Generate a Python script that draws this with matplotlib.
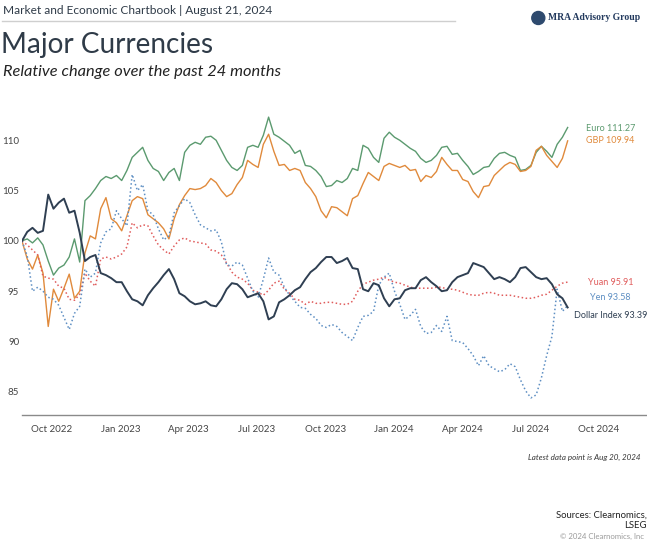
import numpy as np
import pandas as pd
import matplotlib
matplotlib.use("Agg")
import matplotlib.pyplot as plt
import matplotlib.dates as mdates
from matplotlib.patches import Ellipse

# weekly readings, rebased to 100 at the start
start_date = "2022-08-22"
end_date = "2024-08-20"

euro = [100.0, 100.2, 99.8, 100.3, 99.6, 98.0, 96.6, 97.3, 97.6, 98.4,
        100.2, 97.9, 104.0, 104.5, 105.2, 106.0, 106.4, 106.2, 106.5, 106.0,
        107.0, 108.3, 108.8, 109.3, 108.0, 107.2, 106.9, 106.0, 106.8, 107.2,
        106.0, 108.8, 109.5, 109.8, 109.6, 110.3, 110.4, 110.0, 109.0, 108.0,
        107.3, 107.0, 107.5, 109.3, 109.5, 109.3, 110.5, 112.3, 110.6, 110.3,
        109.9, 109.5, 108.7, 109.0, 107.5, 107.4, 107.0, 106.4, 105.4, 105.5,
        106.0, 105.8, 106.2, 107.2, 107.0, 109.5, 109.2, 108.3, 107.8, 110.2,
        110.8, 110.3, 110.0, 109.6, 109.2, 108.9, 108.2, 107.8, 108.0, 108.5,
        109.3, 109.4, 108.6, 108.7, 108.0, 107.4, 106.6, 106.9, 107.3, 107.4,
        108.2, 108.7, 108.8, 108.5, 108.3, 107.0, 107.1, 107.5, 108.8, 109.4,
        108.9, 108.3, 109.6, 110.3, 111.27]

gbp = [100.0, 98.2, 97.2, 98.6, 96.8, 91.5, 95.2, 94.0, 95.3, 96.7,
       94.3, 95.0, 98.8, 100.5, 100.2, 103.2, 104.3, 102.2, 101.8, 101.0,
       102.5, 104.0, 104.4, 104.2, 102.6, 102.2, 101.8, 101.2, 100.2, 102.2,
       103.6, 104.5, 105.2, 105.1, 105.2, 105.5, 106.2, 105.8, 105.0, 104.4,
       104.7, 105.6, 106.3, 108.0, 107.6, 107.3, 109.6, 110.6, 108.9, 107.5,
       107.6, 107.0, 107.2, 107.0, 105.8, 105.2, 104.4, 103.0, 102.3, 103.4,
       103.3, 102.9, 102.5, 104.2, 104.5, 105.7, 106.8, 106.4, 106.0, 107.4,
       107.7, 107.5, 107.3, 107.5, 107.0, 107.1, 105.9, 106.5, 106.3, 106.9,
       108.3, 107.6, 107.0, 107.0, 106.1, 105.9, 104.9, 104.3, 105.4, 105.5,
       106.5, 107.0, 107.5, 107.8, 107.6, 106.9, 107.0, 107.4, 109.0, 109.4,
       108.5, 107.9, 107.3, 108.2, 109.94]

yuan = [100.0, 99.6, 99.1, 98.6, 96.5, 96.3, 96.2, 95.5, 95.3, 94.2,
        94.1, 94.7, 96.8, 96.0, 95.5, 98.2, 98.4, 98.2, 98.4, 98.7,
        99.4, 101.8, 101.3, 101.6, 101.5, 100.5, 99.6, 99.1, 98.7, 99.5,
        100.1, 100.3, 100.0, 99.9, 99.8, 99.7, 99.1, 99.0, 98.6, 97.8,
        96.9, 96.4, 96.2, 95.8, 95.1, 94.9, 94.6, 95.1, 95.8, 96.0,
        95.2, 94.8, 94.2, 94.1, 93.7, 94.0, 93.8, 93.8, 93.9, 93.9,
        93.8, 93.7, 93.7, 94.0, 95.0, 95.7, 95.9, 96.1, 96.2, 96.4,
        96.1, 95.9, 95.8, 95.6, 95.4, 95.3, 95.3, 95.3, 95.3, 95.4,
        95.4, 95.2, 95.2, 95.1, 94.9, 94.7, 94.6, 94.6, 94.8, 94.9,
        94.8, 94.6, 94.6, 94.6, 94.5, 94.4, 94.3, 94.3, 94.4, 94.6,
        94.7, 95.1, 95.5, 95.8, 95.91]

yen = [100.0, 98.5, 95.0, 95.4, 95.0, 94.4, 94.2, 93.6, 92.4, 91.2,
       92.8, 93.5, 97.2, 96.4, 96.8, 99.8, 100.9, 101.2, 103.0, 102.2,
       101.5, 106.6, 105.0, 105.6, 103.0, 102.6, 101.2, 100.1, 100.5, 102.8,
       103.5, 104.2, 103.8, 102.6, 101.6, 101.3, 101.0, 101.1, 99.9, 97.6,
       97.5, 97.9, 97.6, 96.3, 95.0, 94.4, 96.2, 98.3, 96.9, 96.6,
       95.4, 94.6, 94.0, 93.4, 93.3, 92.7, 92.3, 91.6, 91.4, 91.7,
       91.5, 90.9, 90.5, 90.1, 91.4, 92.5, 92.6, 93.0, 95.6, 96.4,
       96.8, 95.0, 93.7, 92.2, 92.6, 93.2, 91.5, 90.8, 90.9, 91.6,
       91.0, 92.5, 90.1, 90.0, 89.9, 89.3, 88.6, 87.6, 88.6, 87.6,
       87.3, 87.0, 87.2, 87.8, 87.5, 86.2, 85.1, 84.4, 84.7, 86.4,
       88.6, 90.5, 95.2, 93.0, 93.58]

dollar = [100.0, 100.9, 101.3, 100.8, 101.0, 104.6, 103.2, 103.8, 104.2, 102.8,
          103.0, 100.8, 98.0, 98.4, 98.6, 96.8, 96.6, 96.3, 95.9, 95.9,
          95.0, 94.2, 94.0, 93.6, 94.6, 95.3, 95.9, 96.6, 97.2, 96.2,
          94.8, 94.5, 94.0, 93.7, 93.8, 94.0, 93.6, 93.5, 94.2, 95.2,
          95.8, 95.7, 95.2, 94.4, 94.6, 94.8, 94.0, 92.2, 92.5, 93.9,
          94.2, 94.6, 95.1, 95.4, 96.2, 96.9, 97.3, 97.9, 98.4, 98.4,
          97.8, 98.0, 98.3, 97.3, 97.2, 95.2, 95.0, 95.8, 95.6, 94.3,
          93.5, 94.2, 94.3, 95.1, 95.3, 95.3, 96.1, 96.4, 95.9, 95.5,
          95.0, 95.1, 95.9, 96.4, 96.6, 96.8, 97.8, 97.6, 97.4, 96.8,
          96.2, 96.4, 96.2, 95.9, 96.4, 97.3, 97.4, 96.9, 96.4, 96.2,
          96.3, 95.7, 94.7, 94.3, 93.39]

names = ["Euro", "GBP", "Yuan", "Yen", "Dollar Index"]
series = [euro, gbp, yuan, yen, dollar]
colors = ["#5b9a6f", "#e08a3c", "#e05c5c", "#5e8fc3", "#2f3f52"]
styles = ["-", "-", ":", ":", "-"]
widths = [1.0, 1.0, 1.1, 1.1, 1.4]
label_nudge = [-0.1, 0.0, 0.0, 0.8, -0.8]

ink = "#2f3b48"
plt.rcParams["font.family"] = ["Lato", "DejaVu Sans"]

fig = plt.figure(figsize=(6.47, 5.45), dpi=100)
ax = fig.add_axes([0.034, 0.2385, 0.966, 0.578])

dates = pd.date_range(start_date, end_date, periods=len(euro))
for name, vals, c, ls, lw in zip(names, series, colors, styles, widths):
    ax.plot(dates, vals, color=c, linestyle=ls, linewidth=lw)

label_x = pd.Timestamp("2024-10-16")
for name, vals, c, dy in zip(names, series, colors, label_nudge):
    ax.text(label_x, vals[-1] + dy, f"{name} {vals[-1]:.2f}", color=c,
            fontsize=6.5, ha="center", va="center")

ax.set_xlim(pd.Timestamp("2022-08-22"), pd.Timestamp("2024-12-04"))
ax.set_ylim(82.7, 114)
ax.set_yticks([85, 90, 95, 100, 105, 110])
ax.xaxis.set_major_locator(mdates.MonthLocator(bymonth=[1, 4, 7, 10]))
ax.xaxis.set_major_formatter(mdates.DateFormatter("%b %Y"))
ax.tick_params(axis="both", length=0, labelsize=7.0, labelcolor="#444444")
ax.tick_params(axis="x", pad=7)
ax.tick_params(axis="y", pad=2)
for s in ["top", "right", "left"]:
    ax.spines[s].set_visible(False)
ax.spines["bottom"].set_color("#8a8a8a")
ax.spines["bottom"].set_linewidth(1.0)

# header
fig.text(0.005, 0.981, "Market and Economic Chartbook | August 21, 2024",
         fontsize=8.6, color=ink, va="center")
fig.add_artist(plt.Line2D([0.003, 0.703], [0.962, 0.962], color="#cfcfcf",
                          linewidth=1.0))
fig.text(0.002, 0.917, "Major Currencies", fontsize=20.2, color=ink,
         va="center")
fig.text(0.004, 0.867, "Relative change over the past 24 months",
         fontsize=11.8, style="italic", color="#222222", va="center")

# logo
fig.add_artist(Ellipse((0.832, 0.967), 13 / 647, 13 / 545,
                       transform=fig.transFigure, color="#2e4a6e"))
fig.text(0.847, 0.967, "MRA Advisory Group", fontsize=6.9, fontweight="bold",
         family="Liberation Serif", color="#233a5e", va="center")

# footer
fig.text(0.99, 0.160, "Latest data point is Aug 20, 2024", fontsize=5.8,
         style="italic", color="#333333", ha="right", va="center")
fig.text(1.0, 0.045, "Sources: Clearnomics,\nLSEG", fontsize=6.8,
         color="#222222", ha="right", va="center", linespacing=1.15)
fig.text(0.995, 0.015, "\u00a9 2024 Clearnomics, Inc", fontsize=5.6,
         color="#9a9a9a", ha="right", va="center")

fig.savefig("out.png", dpi=100)
